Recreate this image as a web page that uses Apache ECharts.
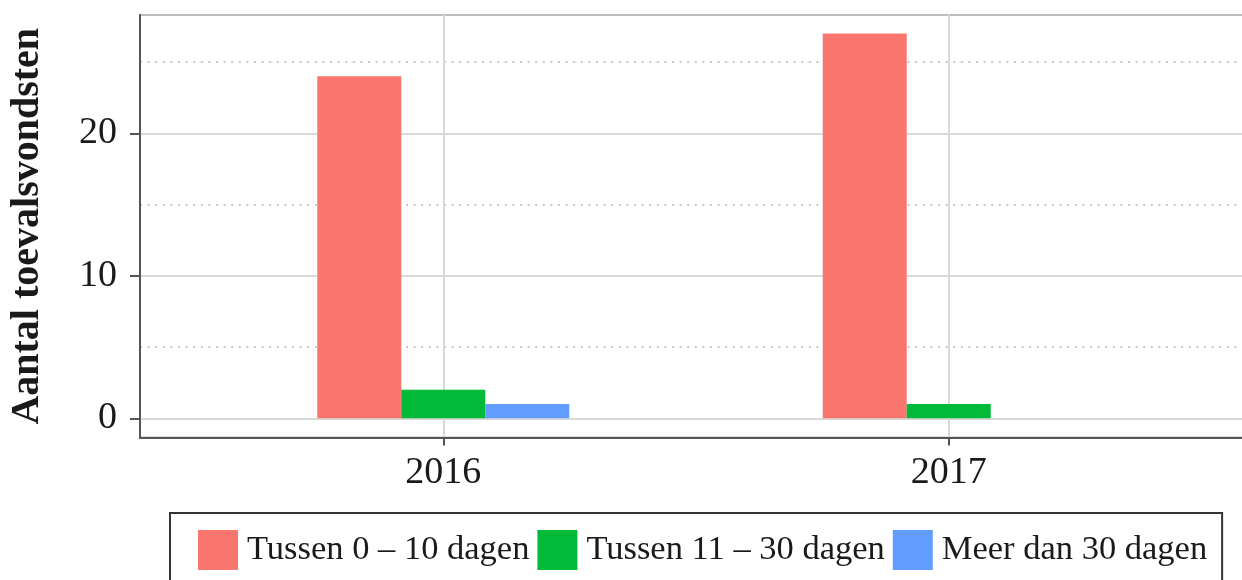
<!DOCTYPE html>
<html>
<head>
<meta charset="utf-8">
<script src="https://cdn.jsdelivr.net/npm/echarts@6/dist/echarts.min.js"></script>
<style>html,body{margin:0;padding:0;background:#fff;}#c{width:1242px;height:580px;}</style>
</head>
<body>
<div id="c"></div>
<script>
const categories = ['2016', '2017'];
const seriesNames = ['Tussen 0 \u2013 10 dagen', 'Tussen 11 \u2013 30 dagen', 'Meer dan 30 dagen'];
const valuesShort = [24, 27];
const valuesMid = [2, 1];
const valuesLong = [1, null];
const colors = ['#F8766D', '#00BA38', '#619CFF'];
const yTicks = [0, 10, 20];
const yMinorTicks = [5, 15, 25];

const font = 'Liberation Serif';
const toPoints = vals => vals.map((v, i) => v == null ? null : [i + 1, v]).filter(p => p);
const allValues = [valuesShort, valuesMid, valuesLong];
const xTickValues = categories.map((c, i) => i + 1);

const chart = echarts.init(document.getElementById('c'));
chart.setOption({
  animation: false,
  backgroundColor: '#fff',
  grid: { left: 140, top: 15, width: 1112, height: 422.5, show: true, borderColor: '#bdbdbd', borderWidth: 2, containLabel: false, outerBoundsMode: 'none' },
  legend: {
    left: 170, top: 513,
    data: seriesNames,
    icon: 'rect',
    itemWidth: 40, itemHeight: 40, itemGap: 8,
    borderColor: '#333', borderWidth: 2,
    padding: [17, 15, 20, 28],
    textStyle: { fontFamily: font, fontSize: 34.5, color: '#1a1a1a', padding: [0, 0, 0, 4] }
  },
  xAxis: {
    type: 'value', min: 0.4, max: 2.6,
    axisLine: { show: true, onZero: false, lineStyle: { color: '#555', width: 2 } },
    axisTick: { show: true, length: 8, customValues: xTickValues, lineStyle: { color: '#555', width: 2 } },
    axisLabel: { customValues: xTickValues, formatter: v => categories[Math.round(v) - 1] || '', fontFamily: font, fontSize: 38, color: '#1a1a1a', margin: 17 },
    splitLine: { show: true, lineStyle: { color: '#d9d9d9', width: 2 } }
  },
  yAxis: [{
    type: 'value', min: -1.35, max: 28.3,
    name: 'Aantal toevalsvondsten', nameLocation: 'middle', nameRotate: 90, nameGap: 92,
    nameTextStyle: { fontFamily: font, fontSize: 40, fontWeight: 'bold', color: '#1a1a1a' },
    axisLine: { show: true, onZero: false, lineStyle: { color: '#555', width: 2 } },
    axisTick: { show: true, length: 10, customValues: yTicks, lineStyle: { color: '#555', width: 2 } },
    axisLabel: { customValues: yTicks, fontFamily: font, fontSize: 38, color: '#1a1a1a', margin: 23 },
    splitLine: { show: true, lineStyle: { color: '#d9d9d9', width: 2 } }
  }, {
    type: 'value', min: -1.35, max: 28.3, position: 'left',
    axisLine: { show: false }, axisLabel: { show: false },
    axisTick: { show: false, customValues: yMinorTicks },
    splitLine: { show: true, lineStyle: { color: '#c8c8c8', width: 2, type: [2, 5.6] } }
  }],
  series: seriesNames.map((name, k) => ({
    name, type: 'bar', barWidth: 84, barGap: '0%',
    itemStyle: { color: colors[k] },
    data: toPoints(allValues[k])
  }))
});
</script>
</body>
</html>
